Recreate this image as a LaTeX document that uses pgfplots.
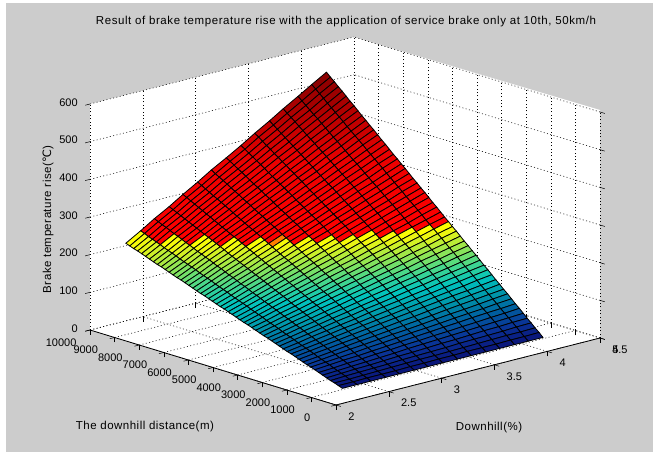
\documentclass[border=0pt]{standalone}
\usepackage{pgfplots}
\pgfplotsset{compat=1.18}
\usepackage{fontspec}
\setmainfont{Liberation Sans}
\newfontfamily\dejavu{DejaVu Sans}
\newcommand{\lblfont}{\fontsize{11.5}{13}\selectfont\addfontfeatures{LetterSpace=4.2}}
\newcommand{\ttlfont}{\fontsize{11.5}{13}\selectfont\addfontfeatures{LetterSpace=5}}
\definecolor{figgray}{RGB}{204,204,204}
\pgfplotsset{
 colormap={brake}{
  rgb255(40)=(10,20,120) rgb255(70)=(10,50,150) rgb255(100)=(0,95,160) rgb255(130)=(0,150,170)
  rgb255(160)=(0,195,190) rgb255(190)=(70,215,140) rgb255(220)=(150,230,80) rgb255(250)=(235,245,20)
  rgb255(262)=(255,255,0) rgb255(263)=(255,0,0) rgb255(400)=(235,0,0) rgb255(569)=(130,0,0)}
}
\begin{document}
\begin{tikzpicture}
\path[use as bounding box] (0,0) rectangle (653pt,452pt);
\fill[figgray] (6pt,0pt) rectangle (653pt,449pt);
\fill[white] (90pt,348pt)--(354pt,415pt)--(600pt,342pt)--(600pt,114pt)--(336pt,47pt)--(90pt,122pt)--cycle;
\begin{axis}[
 at={(90pt,47pt)},anchor=south west,
 x={(105.6pt,26.8pt)},y={(-0.0246pt,0.0075pt)},z={(0pt,0.37667pt)},
 xmin=2,xmax=4.5,ymin=0,ymax=10000,zmin=0,zmax=600,
 xtick={2,2.5,3,3.5,4,4.5},xticklabels={2,2.5,3,3.5,4,\rlap{5}4.5},
 ytick={0,1000,2000,3000,4000,5000,6000,7000,8000,9000,10000},
 yticklabels={0,1000,2000,3000,4000,5000,6000,7000,8000,9000,10000},
 ztick={0,100,200,300,400,500,600},zticklabels={0,100,200,300,400,500,600},
 scaled ticks=false,
 xtick pos=lower,ytick pos=lower,ztick pos=lower,
 grid=major,
 grid style={black,line width=0.55pt,dash pattern=on 1pt off 2.4pt},
 axis line style={draw=none},
 tick align=outside,major tick length=5pt,tick style={black,line width=0.5pt},
 clip=false,
 font=\fontsize{11}{13}\selectfont,
 xticklabel style={anchor=west,xshift=4pt,yshift=-10pt},
 yticklabel style={anchor=center,xshift=-24pt,yshift=-11pt},
 zticklabel style={anchor=east,xshift=-4pt},
 title={\ttlfont Result of brake temperature rise with the application of service brake only at 10th, 50km/h},
 every axis title/.style={at={(axis cs:2.0947,0,1010)},anchor=center},
 xlabel={\lblfont Downhill(\%)},
 every axis x label/.style={at={(axis cs:2.401,-4500,0)},anchor=center},
 ylabel={\lblfont The downhill distance(m)},
 every axis y label/.style={at={(axis cs:0.64,1927,0)},anchor=center},
 zlabel={\lblfont Brake temperature rise({\dejavu ℃})},
 every axis z label/.style={at={(axis cs:2,10000,293)},anchor=center,rotate=90,yshift=42pt},
 colormap name=brake,point meta min=40,point meta max=569,
]
\addplot3[surf,shader=faceted,faceted color=black,line width=0.8pt,mesh/ordering=y varies,mesh/rows=56,mesh/cols=15] table {
2.06 0 40
2.06 160 44
2.06 320 48
2.06 480 51
2.06 640 55
2.06 800 59
2.06 960 63
2.06 1120 67
2.06 1280 71
2.06 1440 74
2.06 1600 78
2.06 1760 82
2.06 1920 86
2.06 2080 90
2.06 2240 93
2.06 2400 97
2.06 2560 101
2.06 2720 105
2.06 2880 109
2.06 3040 113
2.06 3200 116
2.06 3360 120
2.06 3520 124
2.06 3680 128
2.06 3840 132
2.06 4000 135
2.06 4160 139
2.06 4320 143
2.06 4480 147
2.06 4640 151
2.06 4800 155
2.06 4960 158
2.06 5120 162
2.06 5280 166
2.06 5440 170
2.06 5600 174
2.06 5760 177
2.06 5920 181
2.06 6080 185
2.06 6240 189
2.06 6400 193
2.06 6560 197
2.06 6720 200
2.06 6880 204
2.06 7040 208
2.06 7200 212
2.06 7360 216
2.06 7520 219
2.06 7680 223
2.06 7840 227
2.06 8000 231
2.06 8160 235
2.06 8320 239
2.06 8480 242
2.06 8640 246
2.06 8800 250
2.2 0 40
2.2 160 44
2.2 320 48
2.2 480 53
2.2 640 57
2.2 800 61
2.2 960 65
2.2 1120 70
2.2 1280 74
2.2 1440 78
2.2 1600 82
2.2 1760 87
2.2 1920 91
2.2 2080 95
2.2 2240 99
2.2 2400 103
2.2 2560 108
2.2 2720 112
2.2 2880 116
2.2 3040 120
2.2 3200 125
2.2 3360 129
2.2 3520 133
2.2 3680 137
2.2 3840 142
2.2 4000 146
2.2 4160 150
2.2 4320 154
2.2 4480 159
2.2 4640 163
2.2 4800 167
2.2 4960 171
2.2 5120 175
2.2 5280 180
2.2 5440 184
2.2 5600 188
2.2 5760 192
2.2 5920 197
2.2 6080 201
2.2 6240 205
2.2 6400 209
2.2 6560 214
2.2 6720 218
2.2 6880 222
2.2 7040 226
2.2 7200 230
2.2 7360 235
2.2 7520 239
2.2 7680 243
2.2 7840 247
2.2 8000 252
2.2 8160 256
2.2 8320 260
2.2 8480 264
2.2 8640 269
2.2 8800 273
2.33 0 40
2.33 160 45
2.33 320 49
2.33 480 54
2.33 640 59
2.33 800 63
2.33 960 68
2.33 1120 73
2.33 1280 77
2.33 1440 82
2.33 1600 86
2.33 1760 91
2.33 1920 96
2.33 2080 100
2.33 2240 105
2.33 2400 110
2.33 2560 114
2.33 2720 119
2.33 2880 124
2.33 3040 128
2.33 3200 133
2.33 3360 138
2.33 3520 142
2.33 3680 147
2.33 3840 152
2.33 4000 156
2.33 4160 161
2.33 4320 165
2.33 4480 170
2.33 4640 175
2.33 4800 179
2.33 4960 184
2.33 5120 189
2.33 5280 193
2.33 5440 198
2.33 5600 203
2.33 5760 207
2.33 5920 212
2.33 6080 217
2.33 6240 221
2.33 6400 226
2.33 6560 231
2.33 6720 235
2.33 6880 240
2.33 7040 244
2.33 7200 249
2.33 7360 254
2.33 7520 258
2.33 7680 263
2.33 7840 268
2.33 8000 272
2.33 8160 277
2.33 8320 282
2.33 8480 286
2.33 8640 291
2.33 8800 296
2.47 0 40
2.47 160 45
2.47 320 50
2.47 480 55
2.47 640 60
2.47 800 65
2.47 960 70
2.47 1120 75
2.47 1280 80
2.47 1440 86
2.47 1600 91
2.47 1760 96
2.47 1920 101
2.47 2080 106
2.47 2240 111
2.47 2400 116
2.47 2560 121
2.47 2720 126
2.47 2880 131
2.47 3040 136
2.47 3200 141
2.47 3360 146
2.47 3520 151
2.47 3680 156
2.47 3840 161
2.47 4000 167
2.47 4160 172
2.47 4320 177
2.47 4480 182
2.47 4640 187
2.47 4800 192
2.47 4960 197
2.47 5120 202
2.47 5280 207
2.47 5440 212
2.47 5600 217
2.47 5760 222
2.47 5920 227
2.47 6080 232
2.47 6240 237
2.47 6400 242
2.47 6560 248
2.47 6720 253
2.47 6880 258
2.47 7040 263
2.47 7200 268
2.47 7360 273
2.47 7520 278
2.47 7680 283
2.47 7840 288
2.47 8000 293
2.47 8160 298
2.47 8320 303
2.47 8480 308
2.47 8640 313
2.47 8800 318
2.6 0 40
2.6 160 45
2.6 320 51
2.6 480 56
2.6 640 62
2.6 800 67
2.6 960 73
2.6 1120 78
2.6 1280 84
2.6 1440 89
2.6 1600 95
2.6 1760 100
2.6 1920 106
2.6 2080 111
2.6 2240 117
2.6 2400 122
2.6 2560 128
2.6 2720 133
2.6 2880 139
2.6 3040 144
2.6 3200 150
2.6 3360 155
2.6 3520 160
2.6 3680 166
2.6 3840 171
2.6 4000 177
2.6 4160 182
2.6 4320 188
2.6 4480 193
2.6 4640 199
2.6 4800 204
2.6 4960 210
2.6 5120 215
2.6 5280 221
2.6 5440 226
2.6 5600 232
2.6 5760 237
2.6 5920 243
2.6 6080 248
2.6 6240 254
2.6 6400 259
2.6 6560 265
2.6 6720 270
2.6 6880 275
2.6 7040 281
2.6 7200 286
2.6 7360 292
2.6 7520 297
2.6 7680 303
2.6 7840 308
2.6 8000 314
2.6 8160 319
2.6 8320 325
2.6 8480 330
2.6 8640 336
2.6 8800 341
2.74 0 40
2.74 160 46
2.74 320 52
2.74 480 58
2.74 640 64
2.74 800 69
2.74 960 75
2.74 1120 81
2.74 1280 87
2.74 1440 93
2.74 1600 99
2.74 1760 105
2.74 1920 111
2.74 2080 117
2.74 2240 122
2.74 2400 128
2.74 2560 134
2.74 2720 140
2.74 2880 146
2.74 3040 152
2.74 3200 158
2.74 3360 164
2.74 3520 170
2.74 3680 175
2.74 3840 181
2.74 4000 187
2.74 4160 193
2.74 4320 199
2.74 4480 205
2.74 4640 211
2.74 4800 217
2.74 4960 223
2.74 5120 229
2.74 5280 234
2.74 5440 240
2.74 5600 246
2.74 5760 252
2.74 5920 258
2.74 6080 264
2.74 6240 270
2.74 6400 276
2.74 6560 282
2.74 6720 287
2.74 6880 293
2.74 7040 299
2.74 7200 305
2.74 7360 311
2.74 7520 317
2.74 7680 323
2.74 7840 329
2.74 8000 335
2.74 8160 340
2.74 8320 346
2.74 8480 352
2.74 8640 358
2.74 8800 364
2.87 0 40
2.87 160 46
2.87 320 53
2.87 480 59
2.87 640 65
2.87 800 72
2.87 960 78
2.87 1120 84
2.87 1280 90
2.87 1440 97
2.87 1600 103
2.87 1760 109
2.87 1920 116
2.87 2080 122
2.87 2240 128
2.87 2400 135
2.87 2560 141
2.87 2720 147
2.87 2880 153
2.87 3040 160
2.87 3200 166
2.87 3360 172
2.87 3520 179
2.87 3680 185
2.87 3840 191
2.87 4000 198
2.87 4160 204
2.87 4320 210
2.87 4480 217
2.87 4640 223
2.87 4800 229
2.87 4960 235
2.87 5120 242
2.87 5280 248
2.87 5440 254
2.87 5600 261
2.87 5760 267
2.87 5920 273
2.87 6080 280
2.87 6240 286
2.87 6400 292
2.87 6560 298
2.87 6720 305
2.87 6880 311
2.87 7040 317
2.87 7200 324
2.87 7360 330
2.87 7520 336
2.87 7680 343
2.87 7840 349
2.87 8000 355
2.87 8160 362
2.87 8320 368
2.87 8480 374
2.87 8640 380
2.87 8800 387
3.01 0 40
3.01 160 47
3.01 320 53
3.01 480 60
3.01 640 67
3.01 800 74
3.01 960 80
3.01 1120 87
3.01 1280 94
3.01 1440 100
3.01 1600 107
3.01 1760 114
3.01 1920 121
3.01 2080 127
3.01 2240 134
3.01 2400 141
3.01 2560 147
3.01 2720 154
3.01 2880 161
3.01 3040 168
3.01 3200 174
3.01 3360 181
3.01 3520 188
3.01 3680 195
3.01 3840 201
3.01 4000 208
3.01 4160 215
3.01 4320 221
3.01 4480 228
3.01 4640 235
3.01 4800 242
3.01 4960 248
3.01 5120 255
3.01 5280 262
3.01 5440 268
3.01 5600 275
3.01 5760 282
3.01 5920 289
3.01 6080 295
3.01 6240 302
3.01 6400 309
3.01 6560 315
3.01 6720 322
3.01 6880 329
3.01 7040 336
3.01 7200 342
3.01 7360 349
3.01 7520 356
3.01 7680 362
3.01 7840 369
3.01 8000 376
3.01 8160 383
3.01 8320 389
3.01 8480 396
3.01 8640 403
3.01 8800 409
3.15 0 40
3.15 160 47
3.15 320 54
3.15 480 61
3.15 640 69
3.15 800 76
3.15 960 83
3.15 1120 90
3.15 1280 97
3.15 1440 104
3.15 1600 111
3.15 1760 118
3.15 1920 126
3.15 2080 133
3.15 2240 140
3.15 2400 147
3.15 2560 154
3.15 2720 161
3.15 2880 168
3.15 3040 176
3.15 3200 183
3.15 3360 190
3.15 3520 197
3.15 3680 204
3.15 3840 211
3.15 4000 218
3.15 4160 225
3.15 4320 233
3.15 4480 240
3.15 4640 247
3.15 4800 254
3.15 4960 261
3.15 5120 268
3.15 5280 275
3.15 5440 283
3.15 5600 290
3.15 5760 297
3.15 5920 304
3.15 6080 311
3.15 6240 318
3.15 6400 325
3.15 6560 332
3.15 6720 340
3.15 6880 347
3.15 7040 354
3.15 7200 361
3.15 7360 368
3.15 7520 375
3.15 7680 382
3.15 7840 390
3.15 8000 397
3.15 8160 404
3.15 8320 411
3.15 8480 418
3.15 8640 425
3.15 8800 432
3.28 0 40
3.28 160 48
3.28 320 55
3.28 480 63
3.28 640 70
3.28 800 78
3.28 960 85
3.28 1120 93
3.28 1280 100
3.28 1440 108
3.28 1600 115
3.28 1760 123
3.28 1920 131
3.28 2080 138
3.28 2240 146
3.28 2400 153
3.28 2560 161
3.28 2720 168
3.28 2880 176
3.28 3040 183
3.28 3200 191
3.28 3360 198
3.28 3520 206
3.28 3680 214
3.28 3840 221
3.28 4000 229
3.28 4160 236
3.28 4320 244
3.28 4480 251
3.28 4640 259
3.28 4800 266
3.28 4960 274
3.28 5120 282
3.28 5280 289
3.28 5440 297
3.28 5600 304
3.28 5760 312
3.28 5920 319
3.28 6080 327
3.28 6240 334
3.28 6400 342
3.28 6560 349
3.28 6720 357
3.28 6880 365
3.28 7040 372
3.28 7200 380
3.28 7360 387
3.28 7520 395
3.28 7680 402
3.28 7840 410
3.28 8000 417
3.28 8160 425
3.28 8320 432
3.28 8480 440
3.28 8640 448
3.28 8800 455
3.42 0 40
3.42 160 48
3.42 320 56
3.42 480 64
3.42 640 72
3.42 800 80
3.42 960 88
3.42 1120 96
3.42 1280 104
3.42 1440 112
3.42 1600 120
3.42 1760 128
3.42 1920 136
3.42 2080 144
3.42 2240 151
3.42 2400 159
3.42 2560 167
3.42 2720 175
3.42 2880 183
3.42 3040 191
3.42 3200 199
3.42 3360 207
3.42 3520 215
3.42 3680 223
3.42 3840 231
3.42 4000 239
3.42 4160 247
3.42 4320 255
3.42 4480 263
3.42 4640 271
3.42 4800 279
3.42 4960 287
3.42 5120 295
3.42 5280 303
3.42 5440 311
3.42 5600 319
3.42 5760 327
3.42 5920 335
3.42 6080 343
3.42 6240 351
3.42 6400 358
3.42 6560 366
3.42 6720 374
3.42 6880 382
3.42 7040 390
3.42 7200 398
3.42 7360 406
3.42 7520 414
3.42 7680 422
3.42 7840 430
3.42 8000 438
3.42 8160 446
3.42 8320 454
3.42 8480 462
3.42 8640 470
3.42 8800 478
3.55 0 40
3.55 160 48
3.55 320 57
3.55 480 65
3.55 640 74
3.55 800 82
3.55 960 90
3.55 1120 99
3.55 1280 107
3.55 1440 115
3.55 1600 124
3.55 1760 132
3.55 1920 141
3.55 2080 149
3.55 2240 157
3.55 2400 166
3.55 2560 174
3.55 2720 182
3.55 2880 191
3.55 3040 199
3.55 3200 208
3.55 3360 216
3.55 3520 224
3.55 3680 233
3.55 3840 241
3.55 4000 249
3.55 4160 258
3.55 4320 266
3.55 4480 275
3.55 4640 283
3.55 4800 291
3.55 4960 300
3.55 5120 308
3.55 5280 316
3.55 5440 325
3.55 5600 333
3.55 5760 342
3.55 5920 350
3.55 6080 358
3.55 6240 367
3.55 6400 375
3.55 6560 383
3.55 6720 392
3.55 6880 400
3.55 7040 409
3.55 7200 417
3.55 7360 425
3.55 7520 434
3.55 7680 442
3.55 7840 450
3.55 8000 459
3.55 8160 467
3.55 8320 476
3.55 8480 484
3.55 8640 492
3.55 8800 501
3.69 0 40
3.69 160 49
3.69 320 58
3.69 480 66
3.69 640 75
3.69 800 84
3.69 960 93
3.69 1120 102
3.69 1280 110
3.69 1440 119
3.69 1600 128
3.69 1760 137
3.69 1920 145
3.69 2080 154
3.69 2240 163
3.69 2400 172
3.69 2560 181
3.69 2720 189
3.69 2880 198
3.69 3040 207
3.69 3200 216
3.69 3360 225
3.69 3520 233
3.69 3680 242
3.69 3840 251
3.69 4000 260
3.69 4160 269
3.69 4320 277
3.69 4480 286
3.69 4640 295
3.69 4800 304
3.69 4960 313
3.69 5120 321
3.69 5280 330
3.69 5440 339
3.69 5600 348
3.69 5760 356
3.69 5920 365
3.69 6080 374
3.69 6240 383
3.69 6400 392
3.69 6560 400
3.69 6720 409
3.69 6880 418
3.69 7040 427
3.69 7200 436
3.69 7360 444
3.69 7520 453
3.69 7680 462
3.69 7840 471
3.69 8000 480
3.69 8160 488
3.69 8320 497
3.69 8480 506
3.69 8640 515
3.69 8800 524
3.82 0 40
3.82 160 49
3.82 320 58
3.82 480 68
3.82 640 77
3.82 800 86
3.82 960 95
3.82 1120 104
3.82 1280 114
3.82 1440 123
3.82 1600 132
3.82 1760 141
3.82 1920 150
3.82 2080 160
3.82 2240 169
3.82 2400 178
3.82 2560 187
3.82 2720 196
3.82 2880 206
3.82 3040 215
3.82 3200 224
3.82 3360 233
3.82 3520 243
3.82 3680 252
3.82 3840 261
3.82 4000 270
3.82 4160 279
3.82 4320 289
3.82 4480 298
3.82 4640 307
3.82 4800 316
3.82 4960 325
3.82 5120 335
3.82 5280 344
3.82 5440 353
3.82 5600 362
3.82 5760 371
3.82 5920 381
3.82 6080 390
3.82 6240 399
3.82 6400 408
3.82 6560 417
3.82 6720 427
3.82 6880 436
3.82 7040 445
3.82 7200 454
3.82 7360 463
3.82 7520 473
3.82 7680 482
3.82 7840 491
3.82 8000 500
3.82 8160 509
3.82 8320 519
3.82 8480 528
3.82 8640 537
3.82 8800 546
3.96 0 40
3.96 160 50
3.96 320 59
3.96 480 69
3.96 640 78
3.96 800 88
3.96 960 98
3.96 1120 107
3.96 1280 117
3.96 1440 127
3.96 1600 136
3.96 1760 146
3.96 1920 155
3.96 2080 165
3.96 2240 175
3.96 2400 184
3.96 2560 194
3.96 2720 204
3.96 2880 213
3.96 3040 223
3.96 3200 232
3.96 3360 242
3.96 3520 252
3.96 3680 261
3.96 3840 271
3.96 4000 280
3.96 4160 290
3.96 4320 300
3.96 4480 309
3.96 4640 319
3.96 4800 329
3.96 4960 338
3.96 5120 348
3.96 5280 357
3.96 5440 367
3.96 5600 377
3.96 5760 386
3.96 5920 396
3.96 6080 405
3.96 6240 415
3.96 6400 425
3.96 6560 434
3.96 6720 444
3.96 6880 454
3.96 7040 463
3.96 7200 473
3.96 7360 482
3.96 7520 492
3.96 7680 502
3.96 7840 511
3.96 8000 521
3.96 8160 531
3.96 8320 540
3.96 8480 550
3.96 8640 559
3.96 8800 569
};
\addplot3[black,line width=0.8pt,forget plot] coordinates {(4.5,0,0) (2,0,0) (2,10000,0)};
\end{axis}
\end{tikzpicture}
\end{document}
